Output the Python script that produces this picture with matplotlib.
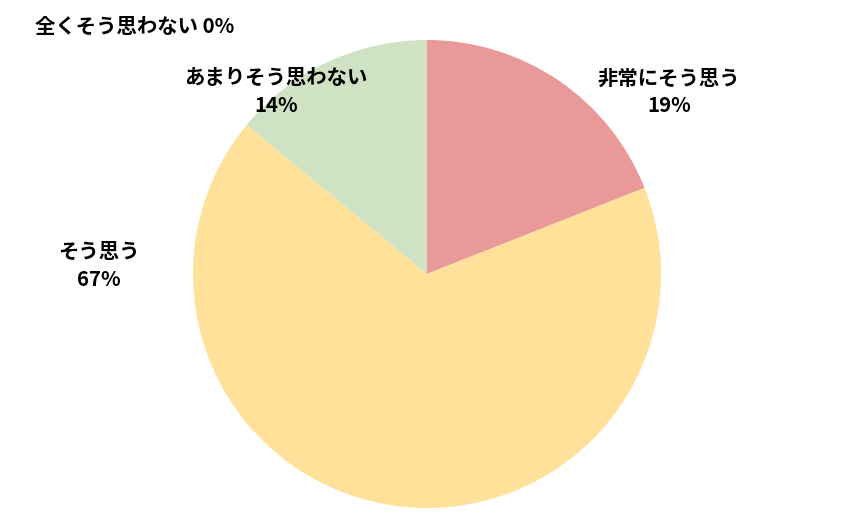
import matplotlib.pyplot as plt

plt.rcParams['font.family'] = ['Noto Sans CJK JP', 'DejaVu Sans']

labels = ['非常にそう思う', 'そう思う', 'あまりそう思わない', '全くそう思わない']
values = [19, 67, 14, 0]
colors = ['#EA9999', '#FFE199', '#CFE2C3', '#9FC5E8']

fig = plt.figure(figsize=(8.59, 5.20), dpi=100)
ax = fig.add_axes([0, 0, 1, 1])

# pie laid out in pixel-like data coords (y up)
ax.pie(values, colors=colors, startangle=90, counterclock=False,
       center=(427, 520 - 274), radius=234,
       wedgeprops={'linewidth': 0})
ax.set_xlim(0, 859)
ax.set_ylim(0, 520)
ax.set_aspect('equal')
ax.axis('off')

# label positions (pixel coords from top-left)
label_pos = [(669, 78), (99, 251), (276, 77)]
for (x, y), name, v in zip(label_pos, labels[:3], values[:3]):
    ax.text(x, 520 - y, name, ha='center', va='center', fontsize=14.7, fontweight='bold')
    ax.text(x, 520 - y - 28, f'{v}%', ha='center', va='center', fontsize=14.7, fontweight='bold')

ax.text(35, 520 - 26, f'{labels[3]} {values[3]}%', ha='left', va='center',
        fontsize=14.7, fontweight='bold')

fig.savefig('out.png', dpi=100)
